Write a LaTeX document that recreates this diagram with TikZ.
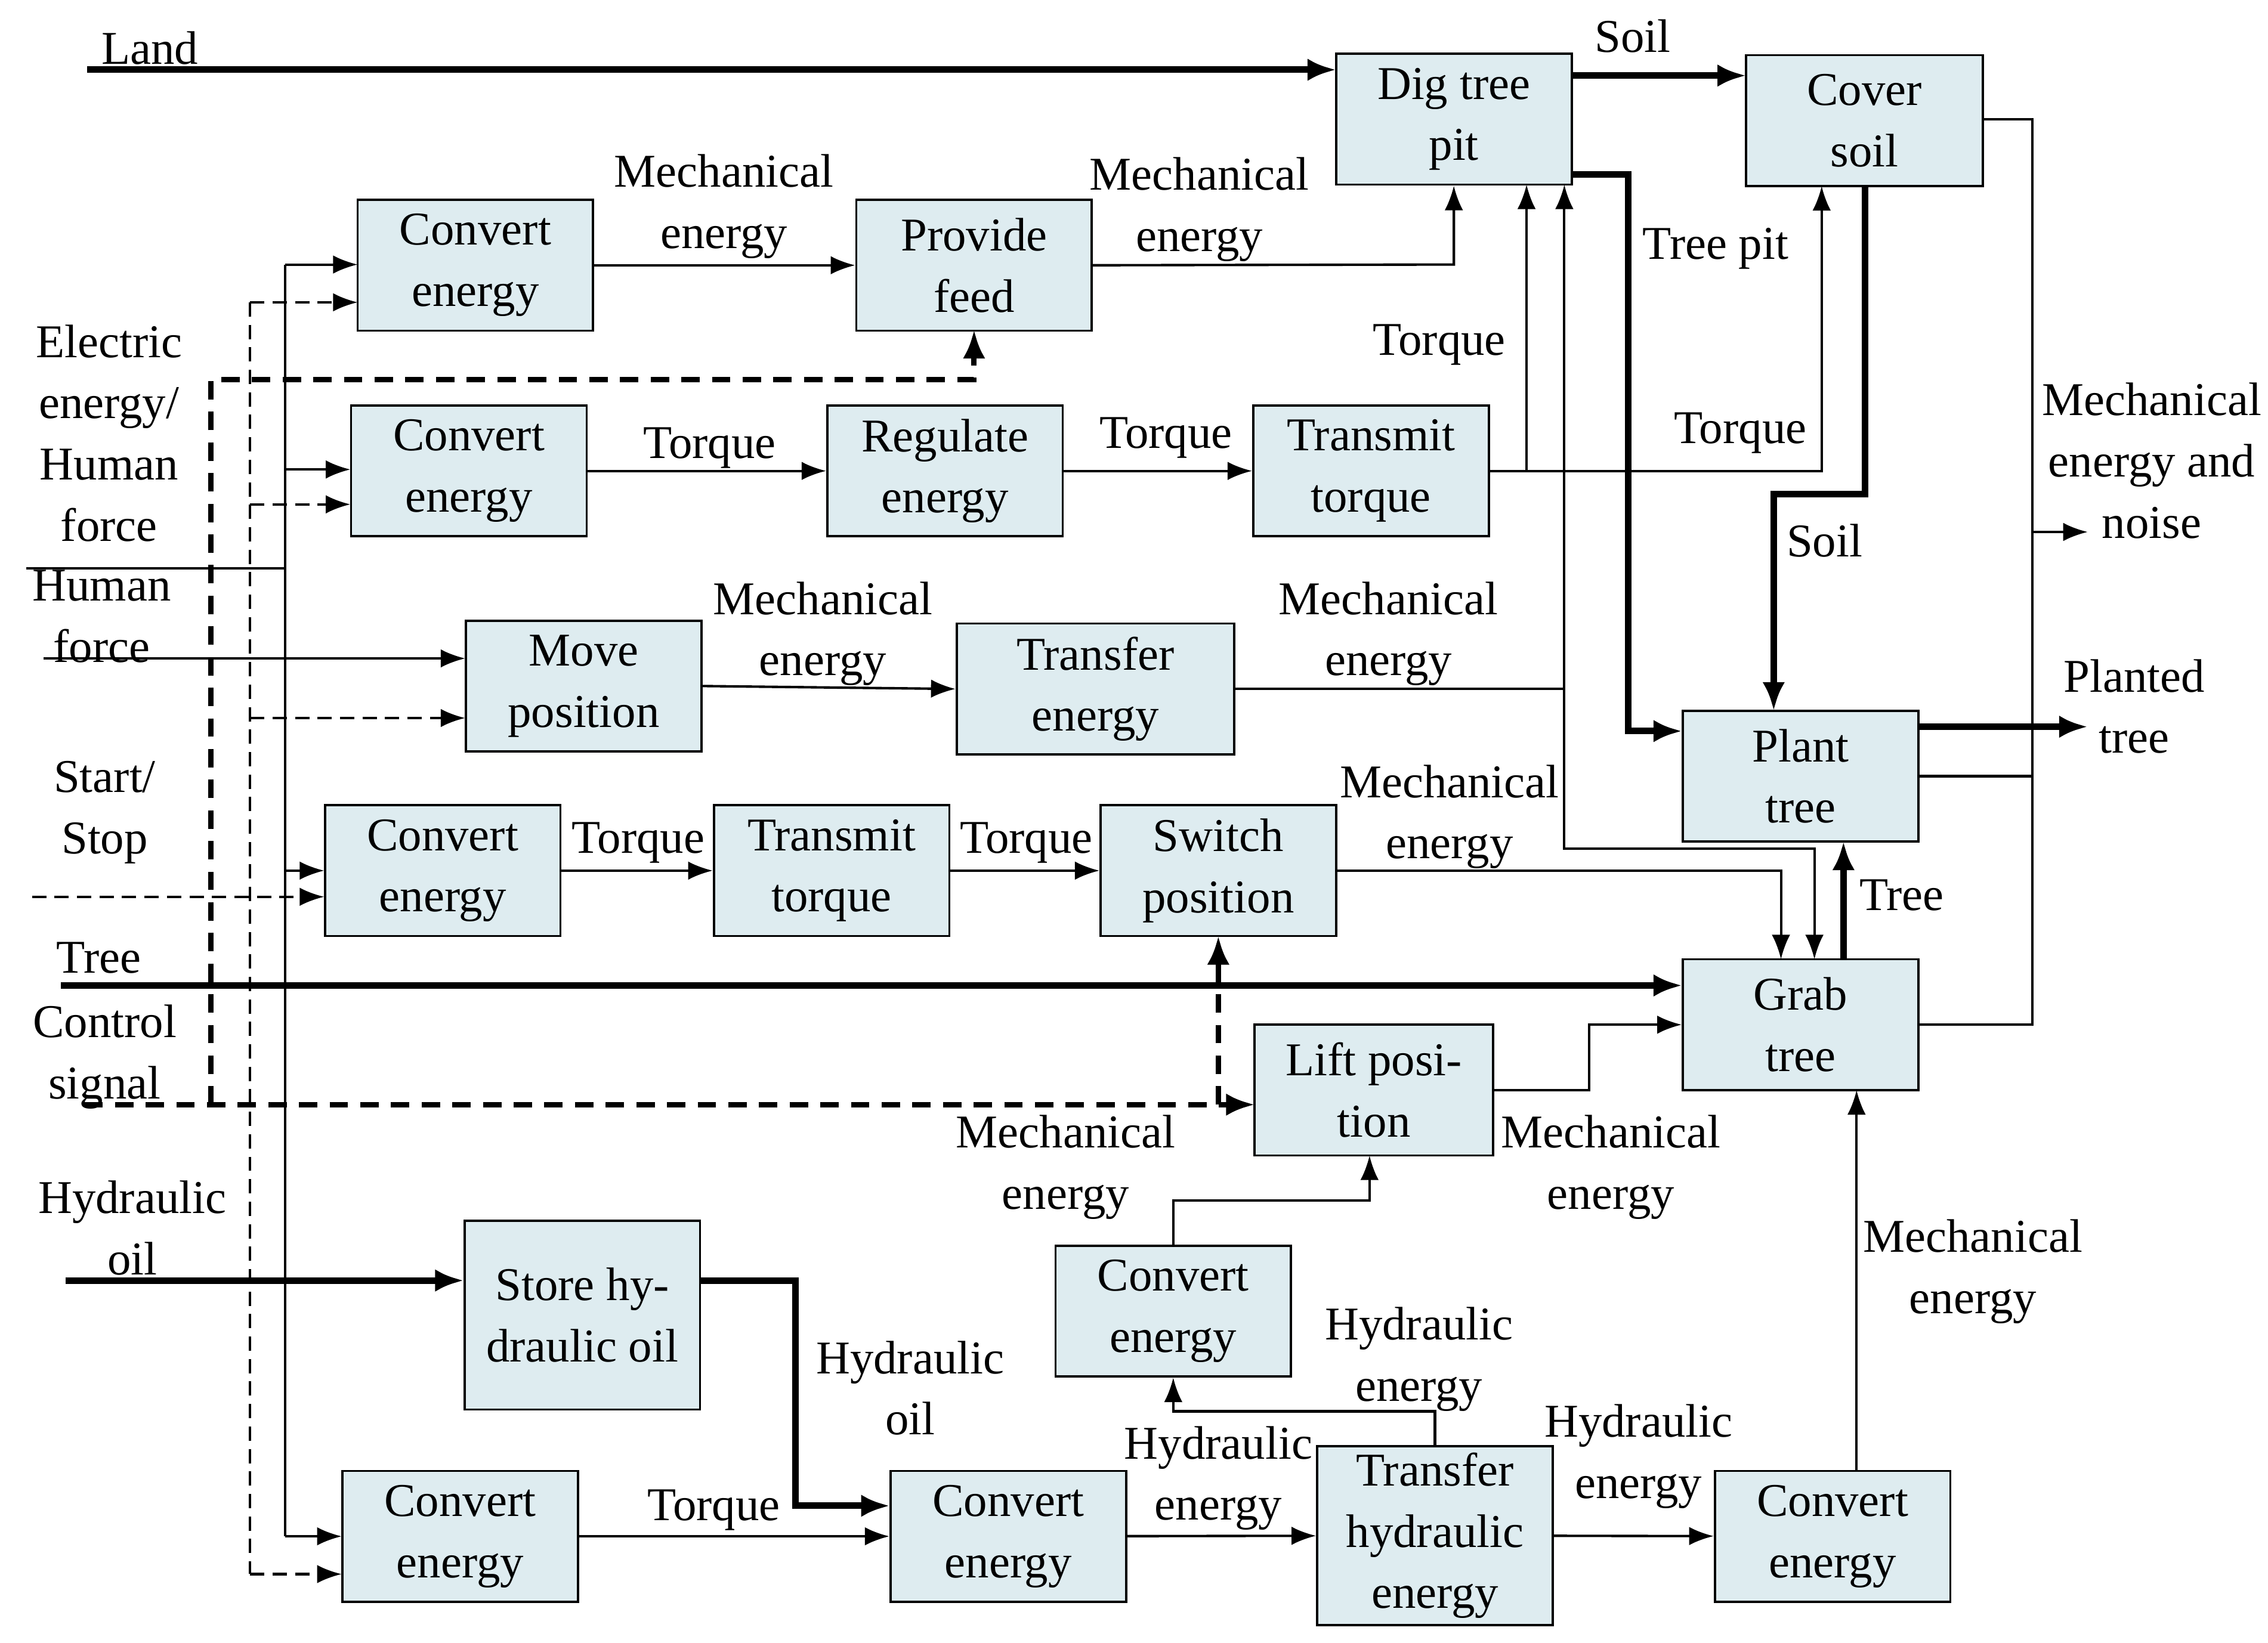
\documentclass[tikz,border=0pt]{standalone}
\usepackage{fontspec}
\setmainfont{Liberation Serif}
\usetikzlibrary{arrows.meta}
\definecolor{boxfill}{RGB}{222,236,240}
\begin{document}
\begin{tikzpicture}[x=0.025cm,y=-0.025cm,
 box/.style={draw,line width=1.1pt,fill=boxfill,minimum width=162*0.025cm,minimum height=90*0.025cm,inner sep=0pt,align=center,font=\fontsize{23}{30}\selectfont},
 lab/.style={align=center,font=\fontsize{23}{30}\selectfont,inner sep=0pt},
 ar/.style={-{Latex[length=12pt,width=9pt]},line width=1.2pt},
 th/.style={-{Latex[length=14pt,width=11pt]},line width=3.2pt},
 da/.style={ar,dash pattern=on 7pt off 4pt},
 dt/.style={-{Latex[length=14pt,width=11pt]},line width=2.6pt,dash pattern=on 9pt off 6pt}]
\useasboundingbox (0,0) rectangle (1560,1130);
\fill[white] (0,0) rectangle (1560,1130);
\node[box] (dig) at (1000,82) {Dig tree\\pit};
\node[box,minimum width=163*0.025cm] (cover) at (1282.5,83) {Cover\\soil};
\node[box] (ce1) at (327,182.5) {Convert\\energy};
\node[box] (feed) at (670,182.5) {Provide\\feed};
\node[box] (ce2) at (322.5,324) {Convert\\energy};
\node[box] (reg) at (650,324) {Regulate\\energy};
\node[box] (trans) at (943,324) {Transmit\\torque};
\node[box] (move) at (401.5,472) {Move\\position};
\node[box,minimum width=191*0.025cm] (transfer) at (753.5,474) {Transfer\\energy};
\node[box] (ce3) at (304.5,599) {Convert\\energy};
\node[box] (tt2) at (572,599) {Transmit\\torque};
\node[box] (switch) at (838,599) {Switch\\position};
\node[box] (plant) at (1238.5,534) {Plant\\tree};
\node[box] (grab) at (1238.5,705) {Grab\\tree};
\node[box,minimum width=164*0.025cm] (lift) at (945,750) {Lift posi-\\tion};
\node[box,minimum height=130*0.025cm,anchor=north] (store) at (400.5,839) {Store hy-\\draulic oil};
\node[box] (ce4) at (807,902) {Convert\\energy};
\node[box] (ce5) at (316.5,1057) {Convert\\energy};
\node[box] (ce6) at (693.5,1057) {Convert\\energy};
\node[box,minimum height=123*0.025cm] (thyd) at (987,1056.5) {Transfer\\hydraulic\\energy};
\node[box] (ce7) at (1260.5,1057) {Convert\\energy};
% labels
\node[lab] at (103,33) {Land};
\node[lab] at (1123,25) {Soil};
\node[lab] at (1180,171) {Tree pit};
\node[lab] at (1255,372) {Soil};
\node[lab] at (1480,317) {Mechanical\\energy and\\noise};
\node[lab] at (1468,486) {Planted\\tree};
\node[lab] at (1308,616) {Tree};
\node[lab] at (68,659) {Tree};
\node[lab] at (498,142) {Mechanical\\energy};
\node[lab] at (825,144) {Mechanical\\energy};
\node[lab] at (488,308) {Torque};
\node[lab] at (802,301) {Torque};
\node[lab] at (990,237) {Torque};
\node[lab] at (1197,298) {Torque};
\node[lab] at (955,436) {Mechanical\\energy};
\node[lab] at (566,436) {Mechanical\\energy};
\node[lab] at (439,580) {Torque};
\node[lab] at (706,580) {Torque};
\node[lab] at (997,562) {Mechanical\\energy};
\node[lab] at (1108,803) {Mechanical\\energy};
\node[lab] at (733,803) {Mechanical\\energy};
\node[lab] at (976,935) {Hydraulic\\energy};
\node[lab] at (838,1017) {Hydraulic\\energy};
\node[lab] at (1127,1002) {Hydraulic\\energy};
\node[lab] at (1357,875) {Mechanical\\energy};
\node[lab] at (491,1039) {Torque};
\node[lab] at (626,955) {Hydraulic\\oil};
\node[lab] at (91,845) {Hydraulic\\oil};
\node[lab] at (70,424) {Human\\force};
\node[lab] at (75,298) {Electric\\energy/\\Human\\force};
\node[lab] at (72,559) {Start/\\Stop};
\node[lab] at (72,727) {Control\\signal};
% coordinates
\coordinate (land) at (60,48);
\coordinate (treein) at (42,678);
\coordinate (hin) at (45,881);
\coordinate (hf) at (30,453);
\coordinate (hf2) at (18,391);
\coordinate (ss) at (22,617);
\coordinate (cs) at (58,760);
\coordinate (noise) at (1436,366);
\coordinate (planted) at (1436,500);
% thick
\draw[th] (land) -- (919,48);
\draw[th] (1081,52) -- (1201,52);
\draw[th] (1081,120) -- (1120,120) -- (1120,503) -- (1157,503);
\draw[th] (1283,128) -- (1283,340) -- (1220,340) -- (1220,489);
\draw[th] (1320,500) -- (planted);
\draw[th] (1268,660) -- (1268,579);
\draw[th] (treein) -- (1157,678);
\draw[th] (hin) -- (319,881);
\draw[th] (482,881) -- (547,881) -- (547,1036) -- (612,1036);
% thin right side
\draw[line width=1.2pt] (1364,82) -- (1398,82) -- (1398,705) -- (1320,705);
\draw[line width=1.2pt] (1320,534) -- (1398,534);
\draw[ar] (1398,366) -- (noise);
% flows
\draw[ar] (ce1) -- (feed);
\draw[ar] (feed.east) -- (1000,182) -- (dig.south);
\draw[ar] (ce2) -- (reg);
\draw[ar] (reg) -- (trans);
\draw[ar] (trans.east) -- (1050,324) -- (1050,127);
\draw[ar] (1050,324) -- (1253,324) -- (1253,128);
\draw[ar] (move.east) -- (transfer.west);
\draw[line width=1.2pt] (transfer.east) -- (1076,474);
\draw[ar] (1076,474) -- (1076,127);
\draw[ar] (1076,474) -- (1076,584) -- (1248,584) -- (1248,660);
\draw[ar] (ce3) -- (tt2);
\draw[ar] (tt2) -- (switch);
\draw[ar] (switch.east) -- (1225,599) -- (1225,660);
\draw[ar] (lift.east) -- (1093,750) -- (1093,705) -- (grab.west);
\draw[ar] (ce4.north) -- (807,826) -- (942,826) -- (942,795);
\draw[ar] (thyd.north) -- (987,971) -- (807,971) -- (ce4.south);
\draw[ar] (ce6) -- (thyd);
\draw[ar] (thyd) -- (ce7);
\draw[ar] (1277,1012) -- (1277,750);
\draw[ar] (ce5) -- (ce6);
% inputs
\draw[ar] (hf) -- (320,453);
\draw[line width=1.2pt] (hf2) -- (196,391);
\draw[line width=1.2pt] (196,182) -- (196,1057);
\draw[ar] (196,182) -- (246,182);
\draw[ar] (196,323) -- (241,323);
\draw[ar] (196,599) -- (223,599);
\draw[ar] (196,1057) -- (235,1057);
\draw[line width=1.2pt,dash pattern=on 7pt off 4pt] (172,208) -- (172,1083);
\draw[da] (172,208) -- (246,208);
\draw[da] (172,347) -- (241,347);
\draw[da] (172,494) -- (320,494);
\draw[da] (172,1083) -- (235,1083);
\draw[da] (ss) -- (223,617);
% control
\draw[dt] (cs) -- (863,760);
\draw[dt] (838,760) -- (838,644);
\draw[dt] (145,760) -- (145,261) -- (670,261) -- (670,227);
\end{tikzpicture}
\end{document}
